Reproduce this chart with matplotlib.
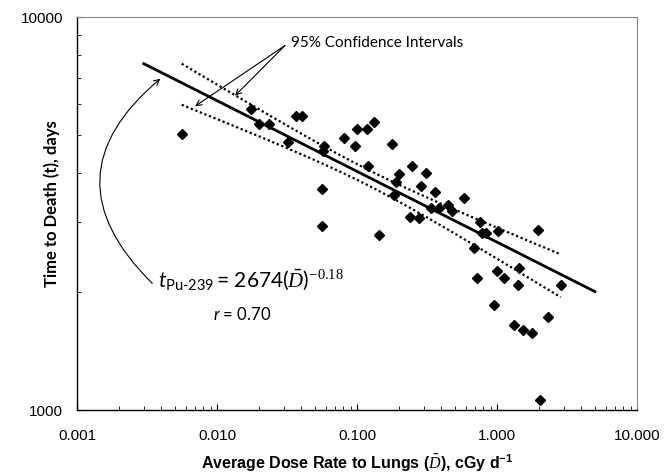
import numpy as np
import matplotlib
matplotlib.use("Agg")
import matplotlib.pyplot as plt
from matplotlib.ticker import FixedLocator, FixedFormatter, NullFormatter, LogLocator

# Einstellungen
plt.rcParams.update({
    "font.family": ["Liberation Sans", "DejaVu Sans"],
    "mathtext.fontset": "custom",
    "mathtext.rm": "Lato",
    "mathtext.it": "Lato:italic",
    "mathtext.bf": "Liberation Sans:bold",
    "mathtext.cal": "Liberation Serif:italic",
    "mathtext.sf": "Liberation Serif",
})

# data (dose rate cGy/d, time to death days)
dose = [0.0056, 0.0174, 0.0200, 0.0235, 0.0324, 0.0364, 0.0408, 0.0581, 0.0569,
        0.0562, 0.0562, 0.0807, 0.0968, 0.1005, 0.1185, 0.1312, 0.177, 0.1193,
        0.1441, 0.1986, 0.190, 0.1847, 0.2462, 0.3095, 0.2856, 0.3578, 0.239,
        0.2786, 0.335, 0.387, 0.4467, 0.477, 0.578, 0.756, 0.781, 0.828, 1.022,
        1.947, 0.682, 0.723, 0.995, 1.127, 1.441, 1.419, 2.851, 0.9565, 2.314,
        1.316, 1.533, 1.770, 2.028]
days = [5048, 5834, 5333, 5333, 4808, 5589, 5589, 4683, 4569, 3661, 2939, 4922,
        4697, 5188, 5188, 5406, 4761, 4165, 2780, 3986, 3793, 3521, 4172, 4005,
        3711, 3594, 3107, 3085, 3262, 3272, 3330, 3218, 3453, 3005, 2813, 2821,
        2862, 2879, 2584, 2169, 2261, 2169, 2298, 2074, 2078, 1853, 1729, 1650,
        1595, 1570, 1059]

# fit t = A * D^b
A = 2674
b = -0.18
fit_range = (0.003, 5.0)
# confidence band half width in decades: sqrt(a + c*(log10 D - m)^2)
ci_a, ci_c, ci_m = 0.000386, 0.001315, -0.932
ci_up, ci_lo = 0.94, 1.08

xticks = [0.001, 0.01, 0.1, 1, 10]
xticklabels = ["0.001", "0.010", "0.100", "1.000", "10.000"]
yticks = [1000, 10000]
yticklabels = ["1000", "10000"]

fig = plt.figure(figsize=(6.72, 4.77), dpi=100)
ax = fig.add_axes([77/672, 66/477, 560/672, 393/477])

xf = np.logspace(np.log10(fit_range[0]), np.log10(fit_range[1]), 200)
ax.plot(xf, A * xf ** b, 'k-', lw=2.0, zorder=3)

xc = np.logspace(np.log10(min(dose)), np.log10(max(dose)), 200)
hw = np.sqrt(ci_a + ci_c * (np.log10(xc) - ci_m) ** 2)
ax.plot(xc, A * xc ** b * 10 ** (ci_up * hw), color='k', lw=1.6, ls=(0, (1, 1.2)), zorder=3)
ax.plot(xc, A * xc ** b / 10 ** (ci_lo * hw), color='k', lw=1.6, ls=(0, (1, 1.2)), zorder=3)

ax.plot(dose, days, 'kD', ms=5.2, zorder=4)

ax.set_xscale('log')
ax.set_yscale('log')
ax.set_xlim(0.001, 10)
ax.set_ylim(1000, 10000)

ax.xaxis.set_major_locator(FixedLocator(xticks))
ax.xaxis.set_major_formatter(FixedFormatter(xticklabels))
ax.xaxis.set_minor_locator(LogLocator(base=10, subs=np.arange(2, 10)))
ax.xaxis.set_minor_formatter(NullFormatter())
ax.yaxis.set_major_locator(FixedLocator(yticks))
ax.yaxis.set_major_formatter(FixedFormatter(yticklabels))
ax.yaxis.set_minor_locator(LogLocator(base=10, subs=np.arange(2, 10)))
ax.yaxis.set_minor_formatter(NullFormatter())

ax.tick_params(which='both', direction='in', top=False, right=False)
ax.tick_params(which='major', length=4, width=0.8, labelsize=11)
ax.tick_params(which='minor', length=3, width=0.6)
ax.tick_params(axis='x', which='major', pad=13)
ax.tick_params(axis='y', which='major', pad=10)

for s in ['left', 'bottom']:
    ax.spines[s].set_linewidth(1.0)
for s in ['top', 'right']:
    ax.spines[s].set_color('#8a8a8a')
    ax.spines[s].set_linewidth(0.8)

ax.set_xlabel(r"Average Dose Rate to Lungs ($\bar{\mathcal{D}}$), cGy d$^{\mathbf{-1}}$",
              fontsize=11.5, fontweight='bold', labelpad=7)
fig.text(52/672, 1 - 204/477, "Time to Death (t), days", rotation=90,
         fontsize=12, fontweight='bold', family='Lato', ha='center', va='center')

# annotations
ax.text(0.0338, 8630, "95% Confidence Intervals", family='Lato', fontsize=11,
        ha='left', va='center')
for tip in [(0.00697, 5927), (0.01345, 6306)]:
    ax.annotate("", xy=tip, xytext=(0.0306, 8463),
                arrowprops=dict(arrowstyle='->', lw=0.8, color='k',
                                shrinkA=0, shrinkB=0))
ax.annotate("", xy=(0.00394, 6966), xytext=(0.00345, 2100),
            arrowprops=dict(arrowstyle='->', lw=0.8, color='k',
                            shrinkA=0, shrinkB=0,
                            connectionstyle="arc3,rad=-0.55"))
ax.text(0.0038, 2070, r"$t_{\mathrm{Pu\text{-}239}}\,$= 2674($\bar{\mathcal{D}}$)$^{\mathsf{-0.18}}$",
        family='Lato', fontsize=15, ha='left', va='baseline')
ax.text(0.015, 1765, r"$r$ = 0.70", family='Lato', fontsize=12, ha='center', va='center')

plt.savefig('out.png', dpi=100)
